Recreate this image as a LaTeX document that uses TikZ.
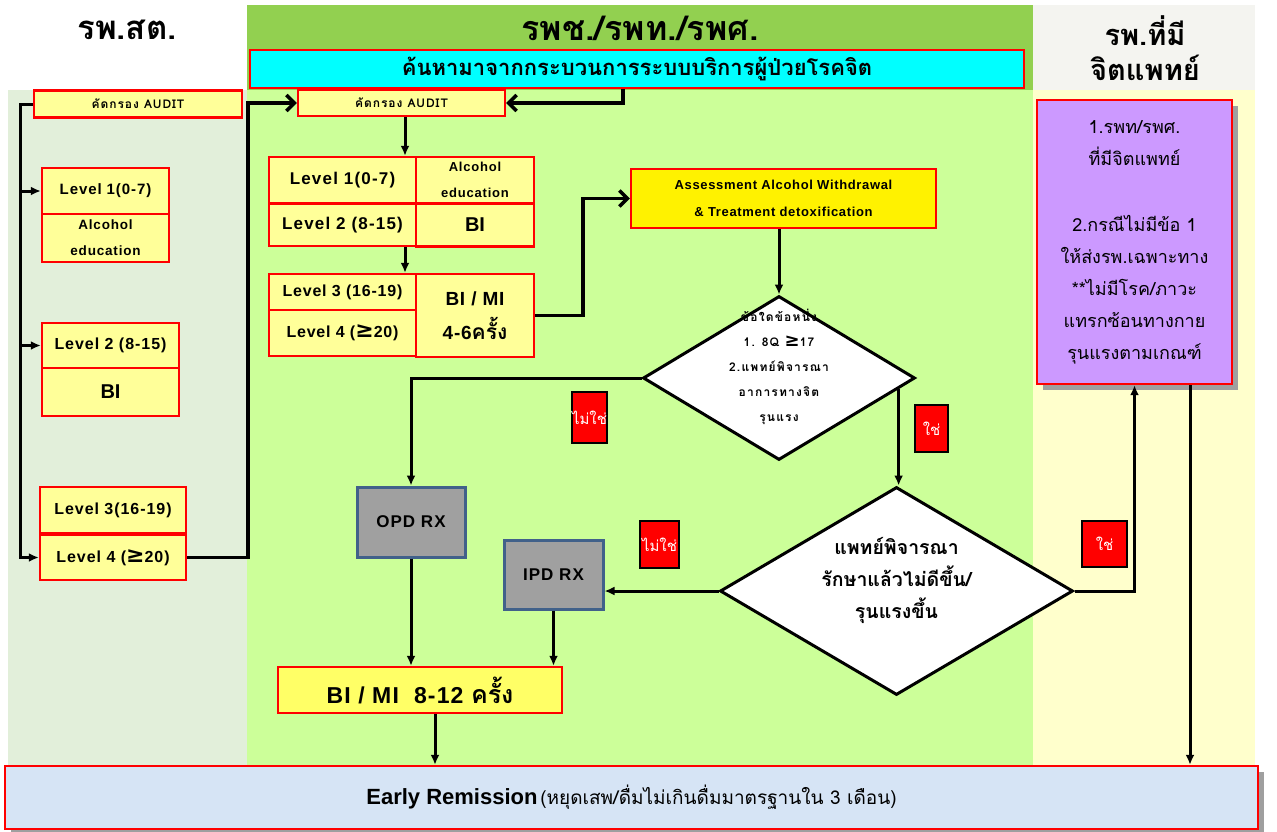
\documentclass[tikz,border=0pt]{standalone}
\usepackage{fontspec}
\setmainfont{Liberation Sans}
\newfontfamily\thai[Script=Thai]{Loma}
\newfontfamily\sym{DejaVu Sans}
\newcommand\lsp[1]{\addfontfeature{LetterSpace=#1}}
\usetikzlibrary{shapes.geometric,arrows.meta,calc,shadows}
\definecolor{panelL}{HTML}{E2EFDA}
\definecolor{panelM}{HTML}{CCFF99}
\definecolor{headM}{HTML}{92D050}
\definecolor{headR}{HTML}{F4F4F0}
\definecolor{panelR}{HTML}{FFFFCC}
\definecolor{lyel}{HTML}{FFFF99}
\definecolor{byel}{HTML}{FFFF66}
\definecolor{cyanb}{HTML}{00FFFF}
\definecolor{purp}{HTML}{CC99FF}
\definecolor{lblue}{HTML}{D6E4F5}
\definecolor{greyb}{HTML}{A0A0A0}
\definecolor{steel}{HTML}{41618A}
\tikzset{
  ybox/.style={draw=red, line width=2.4pt, fill=lyel, inner sep=1pt, align=center},
  gbox/.style={draw=steel, line width=3pt, fill=greyb, inner sep=1pt, align=center, font=\bfseries\fontsize{17}{19}\selectfont\lsp{6}},
  tag/.style={draw=black, line width=2.4pt, fill=red, text=white, inner sep=0pt, font=\thai\fontsize{15}{17}\selectfont},
  dia/.style={diamond, draw=black, line width=3pt, fill=white, inner sep=0pt},
  conn/.style={line width=3pt, -{Latex[length=10pt,width=9pt]}},
  thick conn/.style={line width=3.5pt, -{Straight Barb[length=8pt,width=16pt,line width=3.5pt]}},
  shad/.style={drop shadow={shadow xshift=6pt, shadow yshift=-6pt, fill=gray!75, opacity=1}},
}
\begin{document}
\begin{tikzpicture}[x=1pt,y=-1pt]
\useasboundingbox (0,0) rectangle (1277,831);
% panels
\fill[white] (0,0) rectangle (1277,831);
\fill[panelL] (8,90) rectangle (247,766);
\fill[headM] (247,5) rectangle (1033,90);
\fill[panelM] (247,90) rectangle (1033,766);
\fill[headR] (1033,5) rectangle (1255,90);
\fill[panelR] (1033,90) rectangle (1255,766);
% headers
\node[font=\thai\bfseries\fontsize{33}{35}\selectfont] (hL) at (127,30) {รพ.สต.};
\node[font=\thai\bfseries\fontsize{34}{36}\selectfont] (hM) at (640,28) {รพช./รพท./รพศ.};
\node[font=\thai\bfseries\fontsize{29}{35}\selectfont, align=center] (hR) at (1145,48) {รพ.ที่มี\\จิตแพทย์};
\node[draw=red, line width=2.4pt, fill=cyanb, minimum width=774pt, minimum height=38pt, inner sep=0pt, font=\thai\bfseries\fontsize{22}{24}\selectfont] (cyan) at (637,69) {ค้นหามาจากกระบวนการระบบบริการผู้ป่วยโรคจิต};
% left column
\node[ybox, minimum width=208pt, minimum height=27pt, font=\thai\bfseries\fontsize{12}{14}\selectfont\lsp{8}] (auditL) at (138,104) {คัดกรอง AUDIT};
\node[ybox, minimum width=127pt, minimum height=46pt, font=\bfseries\fontsize{15}{17}\selectfont\lsp{6}] (L1) at (105.5,191) {Level 1(0-7)};
\node[ybox, minimum width=127pt, minimum height=48pt, font=\bfseries\fontsize{13.5}{26}\selectfont\lsp{6}] (L1e) at (105.5,238) {Alcohol\\education};
\node[ybox, minimum width=137pt, minimum height=45pt, font=\bfseries\fontsize{16}{18}\selectfont\lsp{6}] (L2) at (110.5,345.5) {Level 2 (8-15)};
\node[ybox, minimum width=137pt, minimum height=48pt, font=\bfseries\fontsize{20}{22}\selectfont] (L2b) at (110.5,392) {BI};
\node[ybox, minimum width=146pt, minimum height=46pt, font=\bfseries\fontsize{16}{18}\selectfont\lsp{6}] (L3) at (113,510) {Level 3(16-19)};
\node[ybox, minimum width=146pt, minimum height=45pt, font=\bfseries\fontsize{16}{18}\selectfont\lsp{6}] (L4) at (113,557.5) {Level 4 ({\sym\bfseries\fontsize{22}{22}\selectfont ≥}20)};
% middle table
\node[ybox, minimum width=207pt, minimum height=26pt, font=\thai\bfseries\fontsize{12}{14}\selectfont\lsp{8}] (auditM) at (401.5,103) {คัดกรอง AUDIT};
\node[ybox, minimum width=147pt, minimum height=46pt, font=\bfseries\fontsize{17}{19}\selectfont\lsp{7}] (M1) at (342.5,180) {Level 1(0-7)};
\node[ybox, minimum width=118pt, minimum height=46pt, font=\bfseries\fontsize{13}{26}\selectfont\lsp{6}] (M1e) at (475,180) {Alcohol\\education};
\node[ybox, minimum width=147pt, minimum height=42pt, font=\bfseries\fontsize{17}{19}\selectfont\lsp{7}] (M2) at (342.5,225) {Level 2 (8-15)};
\node[ybox, minimum width=118pt, minimum height=43pt, font=\bfseries\fontsize{20}{22}\selectfont] (M2b) at (475,225) {BI};
\node[ybox, minimum width=147pt, minimum height=36pt, font=\bfseries\fontsize{16}{18}\selectfont\lsp{5}] (M3) at (342.5,292) {Level 3 (16-19)};
\node[ybox, minimum width=147pt, minimum height=46pt, font=\bfseries\fontsize{16}{18}\selectfont\lsp{5}] (M4) at (342.5,333) {Level 4 ({\sym\bfseries\fontsize{22}{22}\selectfont ≥}20)};
\node[ybox, minimum width=118pt, minimum height=83pt, font=\bfseries\fontsize{19}{34}\selectfont\lsp{4}] (M34) at (475,315.5) {BI / MI\\4-6{\thai\fontsize{21}{34}\selectfont ครั้ง}};
% assessment
\node[ybox, fill=yellow, minimum width=305pt, minimum height=59pt, font=\bfseries\fontsize{13}{27}\selectfont\lsp{5}] (assess) at (783.5,198.5) {Assessment Alcohol Withdrawal\\\& Treatment detoxification};
% diamond 1
\node[dia, minimum width=272pt, minimum height=164pt] (D1) at (779,378) {};
\node[font=\thai\bfseries\fontsize{12}{25}\selectfont\lsp{10}, align=center] (D1t) at (779,367) {ข้อใดข้อหนึ่ง\\1. 8Q {\sym\bfseries\fontsize{18}{18}\selectfont ≥}17\\2.แพทย์พิจารณา\\อาการทางจิต\\รุนแรง};
% diamond 2
\node[dia, minimum width=353pt, minimum height=208pt] (D2) at (896.5,591) {};
\node[font=\thai\bfseries\fontsize{19.5}{32}\selectfont, align=center] (D2t) at (896.5,580) {แพทย์พิจารณา\\รักษาแล้วไม่ดีขึ้น/\\รุนแรงขึ้น};
% tags
\node[tag, minimum width=33pt, minimum height=51pt] (no1) at (589.5,417.5) {ไม่ใช่};
\node[tag, minimum width=33pt, minimum height=47pt] (yes1) at (931.5,428.5) {ใช่};
\node[tag, minimum width=39pt, minimum height=47pt] (no2) at (659.5,544.5) {ไม่ใช่};
\node[tag, minimum width=45pt, minimum height=46pt] (yes2) at (1104.5,544) {ใช่};
% OPD / IPD
\node[gbox, minimum width=108pt, minimum height=70pt] (OPD) at (411,522) {OPD RX};
\node[gbox, minimum width=99pt, minimum height=69pt] (IPD) at (553.5,574.5) {IPD RX};
% BI/MI 8-12
\node[ybox, fill=byel, minimum width=284pt, minimum height=46pt, font=\bfseries\fontsize{23}{25}\selectfont\lsp{5}] (bimi) at (420,690) {BI / MI\ \ 8-12 {\thai\fontsize{25}{25}\selectfont ครั้ง}};
% purple
\node[ybox, shad, fill=purp, minimum width=195pt, minimum height=284pt, font=\thai\fontsize{18}{32}\selectfont] (purple) at (1134.5,242) {1.รพท/รพศ.\\ที่มีจิตแพทย์\\[34pt]2.กรณีไม่มีข้อ 1\\ให้ส่งรพ.เฉพาะทาง\\**ไม่มีโรค/ภาวะ\\แทรกซ้อนทางกาย\\รุนแรงตามเกณฑ์};
% early remission
\node[ybox, shad, fill=lblue, minimum width=1253pt, minimum height=63pt] (early) at (631.5,797.5) {{\bfseries\fontsize{22}{24}\selectfont Early Remission}\ {\thai\fontsize{19}{21}\selectfont (หยุดเสพ/ดื่มไม่เกินดื่มมาตรฐานใน 3 เดือน)}};
% helper coordinates
\coordinate (k1) at (623,0);
\coordinate (k2) at (405,0);
\coordinate (k3) at (583,0);
\coordinate (k4) at (1190,0);
\coordinate (k5) at (435,0);
\coordinate (k6) at (20,0);
\coordinate (k7) at (248,0);
% connectors
\draw[thick conn] (k1 |- cyan.south) |- (auditM.east);
\draw[conn] (auditM.south -| k2) -- (M1.north -| k2);
\draw[conn] (M2.south -| k2) -- (M3.north -| k2);
\draw[thick conn] (M34.east) -- (M34.east -| k3) |- (assess.west);
\draw[conn] (D1.north |- assess.south) -- (D1.north);
\draw[conn] (D1.west) -| (OPD.north);
\path ($(D1.east)!0.13!(D1.south)$) coordinate (d1o);
\draw[conn] (d1o) -- (d1o |- D2.north);
\draw[conn] (D2.west) -- (D2.west -| IPD.east);
\draw[conn] (D2.east) -| (purple.south);
\draw[conn] (k4 |- purple.south) -- (k4 |- early.north);
\draw[conn] (OPD.south) -- (OPD.south |- bimi.north);
\draw[conn] (IPD.south) -- (IPD.south |- bimi.north);
\draw[conn] (k5 |- bimi.south) -- (k5 |- early.north);
% left tree
\draw[conn] (auditL.west) -- (auditL.west -| k6) |- (L4.west);
\draw[conn] (k6 |- L1.west) -- (L1.west);
\draw[conn] (k6 |- L2.west) -- (L2.west);
\draw[thick conn] (L4.east) -- (L4.east -| k7) |- (auditM.west);
\end{tikzpicture}
\end{document}
